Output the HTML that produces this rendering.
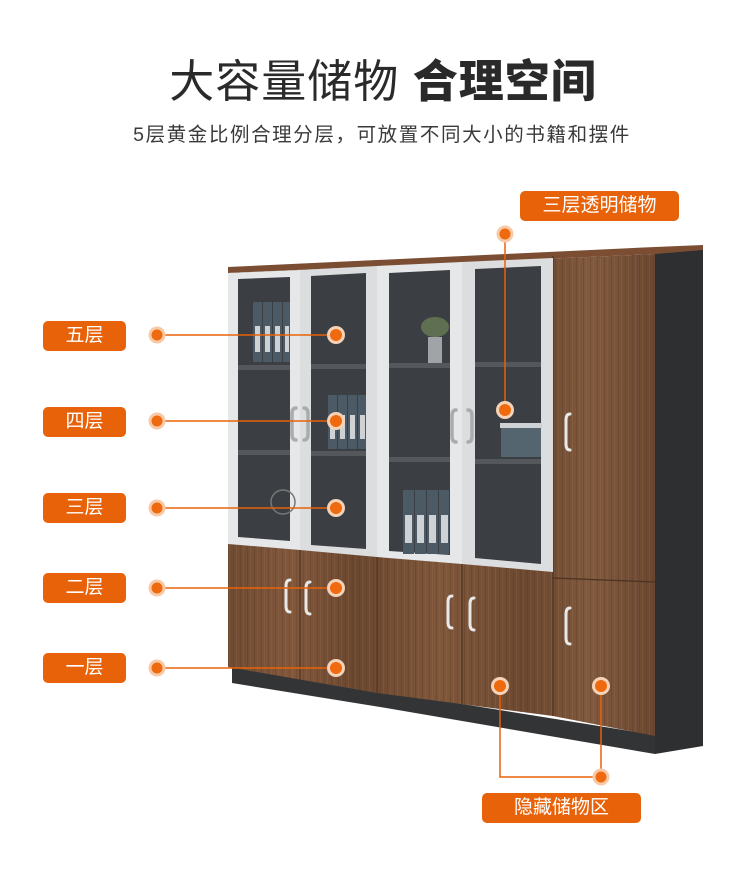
<!DOCTYPE html>
<html><head><meta charset="utf-8">
<style>
html,body{margin:0;padding:0;background:#fff;}
body{width:750px;height:894px;position:relative;overflow:hidden;font-family:"Liberation Sans","Noto Sans CJK SC",sans-serif;}
.t{position:absolute;left:0;width:750px;text-align:center;color:#333;}
.lab{position:absolute;background:#e8620a;color:#fff;border-radius:5px;text-align:center;font-size:19px;line-height:30px;font-family:"Liberation Sans","Noto Sans CJK SC",sans-serif;}
</style></head><body>
<div class="t" style="left:8px;top:52px;font-size:45px;line-height:60px;color:#2a2a2a;letter-spacing:1px;">大容量储物 <b style="font-weight:900">合理空间</b></div>
<div class="t" style="left:7px;top:121px;font-size:19.5px;line-height:28px;color:#3a3a3a;letter-spacing:1.6px;">5层黄金比例合理分层，可放置不同大小的书籍和摆件</div>

<svg width="750" height="894" style="position:absolute;left:0;top:0">
<defs>
<linearGradient id="w" x1="0" x2="1" y1="0" y2="0">
<stop offset="0" stop-color="#6e4b33"/><stop offset="0.15" stop-color="#82583c"/><stop offset="0.3" stop-color="#6a472f"/><stop offset="0.5" stop-color="#7f573b"/><stop offset="0.7" stop-color="#6b4830"/><stop offset="0.85" stop-color="#815a3e"/><stop offset="1" stop-color="#6a4731"/>
</linearGradient>
<pattern id="grain" width="7" height="40" patternUnits="userSpaceOnUse"><rect width="7" height="40" fill="none"/><rect x="2" width="1" height="40" fill="#5a3a25" opacity="0.35"/><rect x="5" width="1" height="40" fill="#9a7050" opacity="0.25"/></pattern>
</defs>
<polygon points="655,253 703,248 703,746 655,754" fill="#2e2f31"/>
<polygon points="232,667 655,735 655,754 380,707 232,683" fill="#333436"/>
<polygon points="228,267 655,247 703,245 703,250 655,254 228,273" fill="#7b4e34"/>
<polygon points="228,273 655,254 655,736 553,716 377,693 228,667" fill="url(#w)"/>
<polygon points="228,273 655,254 655,736 553,716 377,693 228,667" fill="url(#grain)"/>
<g stroke="#4b3222" stroke-width="1.2">
<line x1="300" y1="550" x2="300" y2="680"/>
<line x1="377" y1="557" x2="377" y2="693"/>
<line x1="462" y1="564" x2="462" y2="705"/>
<line x1="553" y1="256" x2="553" y2="716"/>
<line x1="553" y1="578" x2="655" y2="582"/>
</g>
<g>
<polygon points="228,273 300,270 300,550 228,544" fill="#e6e7e8"/>
<polygon points="300,270 377,266 377,557 300,550" fill="#dcdddf"/>
<polygon points="377,266 462,262 462,564 377,557" fill="#e6e7e8"/>
<polygon points="462,262 553,258 553,572 462,564" fill="#dcdddf"/>
<polygon points="238,279 290,277 290,541 238,537" fill="#3b3e42"/>
<polygon points="311,276 366,273 366,549 311,545" fill="#3b3e42"/>
<polygon points="389,273 450,270 450,555 389,551" fill="#3b3e42"/>
<polygon points="475,269 541,266 541,564 475,558" fill="#3b3e42"/>
</g>
<g fill="#54585c">
<rect x="238" y="365" width="52" height="5"/><rect x="311" y="364" width="55" height="5"/>
<rect x="389" y="363" width="61" height="5"/><rect x="475" y="362" width="66" height="5"/>
<rect x="238" y="450" width="52" height="5"/><rect x="311" y="451" width="55" height="5"/>
<rect x="389" y="457" width="61" height="5"/><rect x="475" y="459" width="66" height="5"/>
</g>
<g fill="#4c5a66">
<rect x="253" y="302" width="9" height="60"/><rect x="263" y="302" width="9" height="60"/><rect x="273" y="302" width="9" height="60"/><rect x="283" y="302" width="7" height="60"/>
<rect x="328" y="395" width="9" height="54"/><rect x="338" y="395" width="9" height="54"/><rect x="348" y="395" width="9" height="54"/><rect x="358" y="395" width="8" height="54"/>
<rect x="403" y="490" width="11" height="64"/><rect x="415" y="490" width="11" height="64"/><rect x="427" y="490" width="11" height="64"/><rect x="439" y="490" width="10" height="64"/>
<rect x="501" y="427" width="40" height="30" fill="#55656f"/>
</g>
<g fill="#cfd2d4">
<rect x="255" y="326" width="5" height="26"/><rect x="265" y="326" width="5" height="26"/><rect x="275" y="326" width="5" height="26"/><rect x="285" y="326" width="4" height="26"/>
<rect x="330" y="415" width="5" height="24"/><rect x="340" y="415" width="5" height="24"/><rect x="350" y="415" width="5" height="24"/><rect x="360" y="415" width="5" height="24"/>
<rect x="405" y="515" width="7" height="28"/><rect x="417" y="515" width="7" height="28"/><rect x="429" y="515" width="7" height="28"/><rect x="441" y="515" width="7" height="28"/>
<rect x="500" y="423" width="42" height="5"/>
</g>
<rect x="428" y="337" width="14" height="26" fill="#a0a4a6"/>
<ellipse cx="435" cy="327" rx="14" ry="10" fill="#5f7052"/>
<circle cx="283" cy="502" r="12" fill="none" stroke="#777" stroke-width="1.5"/>
<g fill="none" stroke="#a9acae" stroke-width="3.5" stroke-linecap="round">
<path d="M296 408 q-4 0 -4 6 v20 q0 6 4 6"/><path d="M304 408 q4 0 4 6 v20 q0 6 -4 6"/>
<path d="M456 410 q-4 0 -4 6 v20 q0 6 4 6"/><path d="M468 410 q4 0 4 6 v20 q0 6 -4 6"/>
</g>
<g fill="none" stroke="#e8e8e8" stroke-width="3" stroke-linecap="round">
<path d="M290 580 q-4 0 -4 6 v20 q0 6 4 6"/><path d="M310 582 q-4 0 -4 6 v20 q0 6 4 6"/>
<path d="M452 596 q-4 0 -4 6 v20 q0 6 4 6"/><path d="M474 598 q-4 0 -4 6 v20 q0 6 4 6"/>
<path d="M570 414 q-4 0 -4 6 v24 q0 6 4 6"/><path d="M570 608 q-4 0 -4 6 v24 q0 6 4 6"/>
</g>
<g stroke="#e8620a" stroke-width="1.5" fill="none">
<line x1="157" y1="335" x2="336" y2="335"/>
<line x1="157" y1="421" x2="336" y2="421"/>
<line x1="157" y1="508" x2="336" y2="508"/>
<line x1="157" y1="588" x2="336" y2="588"/>
<line x1="157" y1="668" x2="336" y2="668"/>
<line x1="505" y1="234" x2="505" y2="410"/>
<polyline points="500,686 500,777 601,777"/>
<line x1="601" y1="686" x2="601" y2="777"/>
</g>
<g fill="#f7c9a6">
<circle cx="157" cy="335" r="8.5"/><circle cx="157" cy="421" r="8.5"/><circle cx="157" cy="508" r="8.5"/><circle cx="157" cy="588" r="8.5"/><circle cx="157" cy="668" r="8.5"/>
<circle cx="505" cy="234" r="8.5"/><circle cx="601" cy="777" r="8.5"/>
</g>
<g fill="#f6d3b8">
<circle cx="336" cy="335" r="9"/><circle cx="336" cy="421" r="9"/><circle cx="336" cy="508" r="9"/><circle cx="336" cy="588" r="9"/><circle cx="336" cy="668" r="9"/>
<circle cx="505" cy="410" r="9"/><circle cx="500" cy="686" r="9"/><circle cx="601" cy="686" r="9"/>
</g>
<g fill="#ef6a0e">
<circle cx="157" cy="335" r="5.5"/><circle cx="157" cy="421" r="5.5"/><circle cx="157" cy="508" r="5.5"/><circle cx="157" cy="588" r="5.5"/><circle cx="157" cy="668" r="5.5"/>
<circle cx="505" cy="234" r="5.5"/><circle cx="601" cy="777" r="5.5"/>
<circle cx="336" cy="335" r="6"/><circle cx="336" cy="421" r="6"/><circle cx="336" cy="508" r="6"/><circle cx="336" cy="588" r="6"/><circle cx="336" cy="668" r="6"/>
<circle cx="505" cy="410" r="6"/><circle cx="500" cy="686" r="6"/><circle cx="601" cy="686" r="6"/>
</g>
</svg>

<div class="lab" style="left:43px;top:321px;width:83px;">五层</div>
<div class="lab" style="left:43px;top:407px;width:83px;">四层</div>
<div class="lab" style="left:43px;top:493px;width:83px;">三层</div>
<div class="lab" style="left:43px;top:573px;width:83px;">二层</div>
<div class="lab" style="left:43px;top:653px;width:83px;">一层</div>
<div class="lab" style="left:520px;top:191px;width:159px;">三层透明储物</div>
<div class="lab" style="left:482px;top:793px;width:159px;">隐藏储物区</div>
</body></html>
